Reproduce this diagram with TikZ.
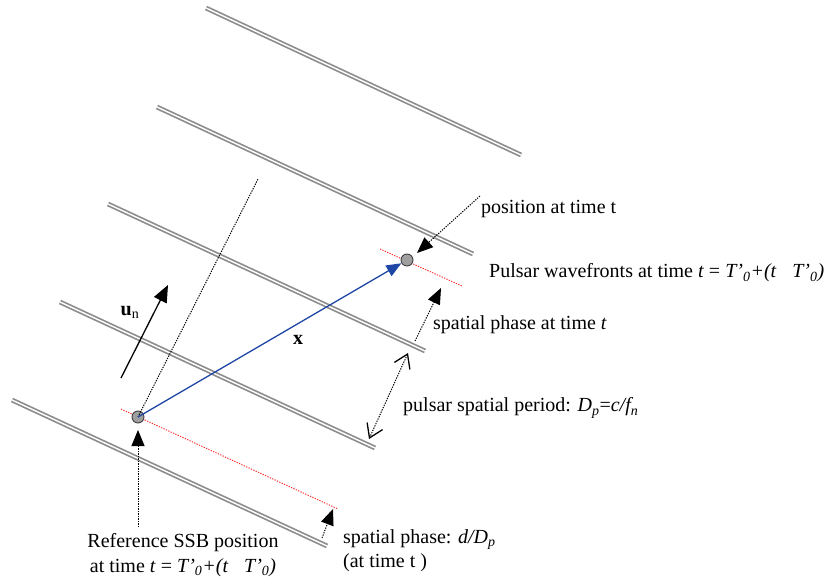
\documentclass[tikz,border=0pt]{standalone}
\usepackage{fontspec}
\setmainfont{Liberation Serif}
\usetikzlibrary{arrows.meta}
\begin{document}
\begin{tikzpicture}[x=1pt,y=-1pt,
  font=\fontsize{20}{24}\selectfont,
  wave/.style={draw=black!45, double=white, double distance=1.4pt, line width=1.7pt},
  fine/.style={dash pattern=on 1.3pt off 1.2pt, line width=1pt},
  reddot/.style={red!85, dash pattern=on 1.3pt off 1.3pt, line width=0.9pt},
  tri/.style={-{Triangle[length=16pt,width=13pt]}},
  openv/.style={{Straight Barb[length=13pt,width=17pt,line width=1.3pt]}-{Straight Barb[length=13pt,width=17pt,line width=1.3pt]}},
  pt/.style={circle, minimum size=12pt, inner sep=0pt, fill=gray!75, draw=black!75, line width=0.9pt},
  lbl/.style={anchor=west, inner sep=0pt}]
\useasboundingbox (0,0) rectangle (831,584);

% wavefronts
\draw[wave] (206,8) -- (521,155);
\draw[wave] (157,107) -- (473,254);
\draw[wave] (108,204) -- (425,351);
\draw[wave] (60,302) -- (375,448);
\draw[wave] (12,400) -- (327,546);

% coordinates
\coordinate (ntop) at (258,179);
\coordinate (r1a) at (121,409);
\coordinate (r1b) at (338,509);
\coordinate (r2a) at (380,249);
\coordinate (r2b) at (462,286);
\coordinate (una) at (121,378);
\coordinate (unb) at (168,285);
\coordinate (posa) at (480,196);
\coordinate (posb) at (417,253);
\coordinate (spa) at (415,341);
\coordinate (spb) at (441,288);
\coordinate (pera) at (408,353);
\coordinate (perb) at (369,439);
\coordinate (ssba) at (138,527);
\coordinate (ssbb) at (138,430);
\coordinate (dpa) at (322,538);
\coordinate (dpb) at (333,509);

% red dotted lines
\draw[reddot] (r1a) -- (r1b);
\draw[reddot] (r2a) -- (r2b);

% points
\node[pt] (ssb) at (138,417) {};
\node[pt] (psr) at (407,260) {};

% dotted normal line
\draw[fine] (ssb.center) -- (ntop);

% x vector
\draw[line width=1.3pt, color={rgb,255:red,30;green,70;blue,165}, -{Triangle[length=15pt,width=12pt]}] (ssb.center) -- (psr);

% u_n
\draw[line width=1.3pt, -{Triangle[length=17pt,width=14pt]}] (una) -- (unb);

% annotation arrows
\draw[fine, tri] (posa) -- (posb);
\draw[fine, tri] (spa) -- (spb);
\draw[fine, openv] (pera) -- (perb);
\draw[fine, tri] (ssba) -- (ssbb);
\draw[fine, tri] (dpa) -- (dpb);

% labels
\node (lun) at (130,312) {\textbf{u}\textsubscript{n}};
\node (lx) at (298,340) {\textbf{x}};
\node[lbl] (lpos) at (481,209) {position at time t};
\node[lbl] (lwave) at (489,273) {Pulsar wavefronts at time \textit{t} = \textit{T’\textsubscript{0}+(t\hspace{0.8em}T’\textsubscript{0})}};
\node[lbl] (lsp) at (433,325) {spatial phase at time \textit{t}};
\node[lbl] (lper) at (403,408) {pulsar spatial period: \textit{D\textsubscript{p}}=\textit{c/f\textsubscript{n}}};
\node[inner sep=0pt, align=center] (lssb) at (183,555) {Reference SSB position\\[1pt] at time \textit{t} = \textit{T’\textsubscript{0}+(t\hspace{0.8em}T’\textsubscript{0})}};
\node[inner sep=0pt, align=left, anchor=west] (ldp) at (343,551) {spatial phase: \textit{d/D\textsubscript{p}}\\(at time t )};
\end{tikzpicture}
\end{document}
